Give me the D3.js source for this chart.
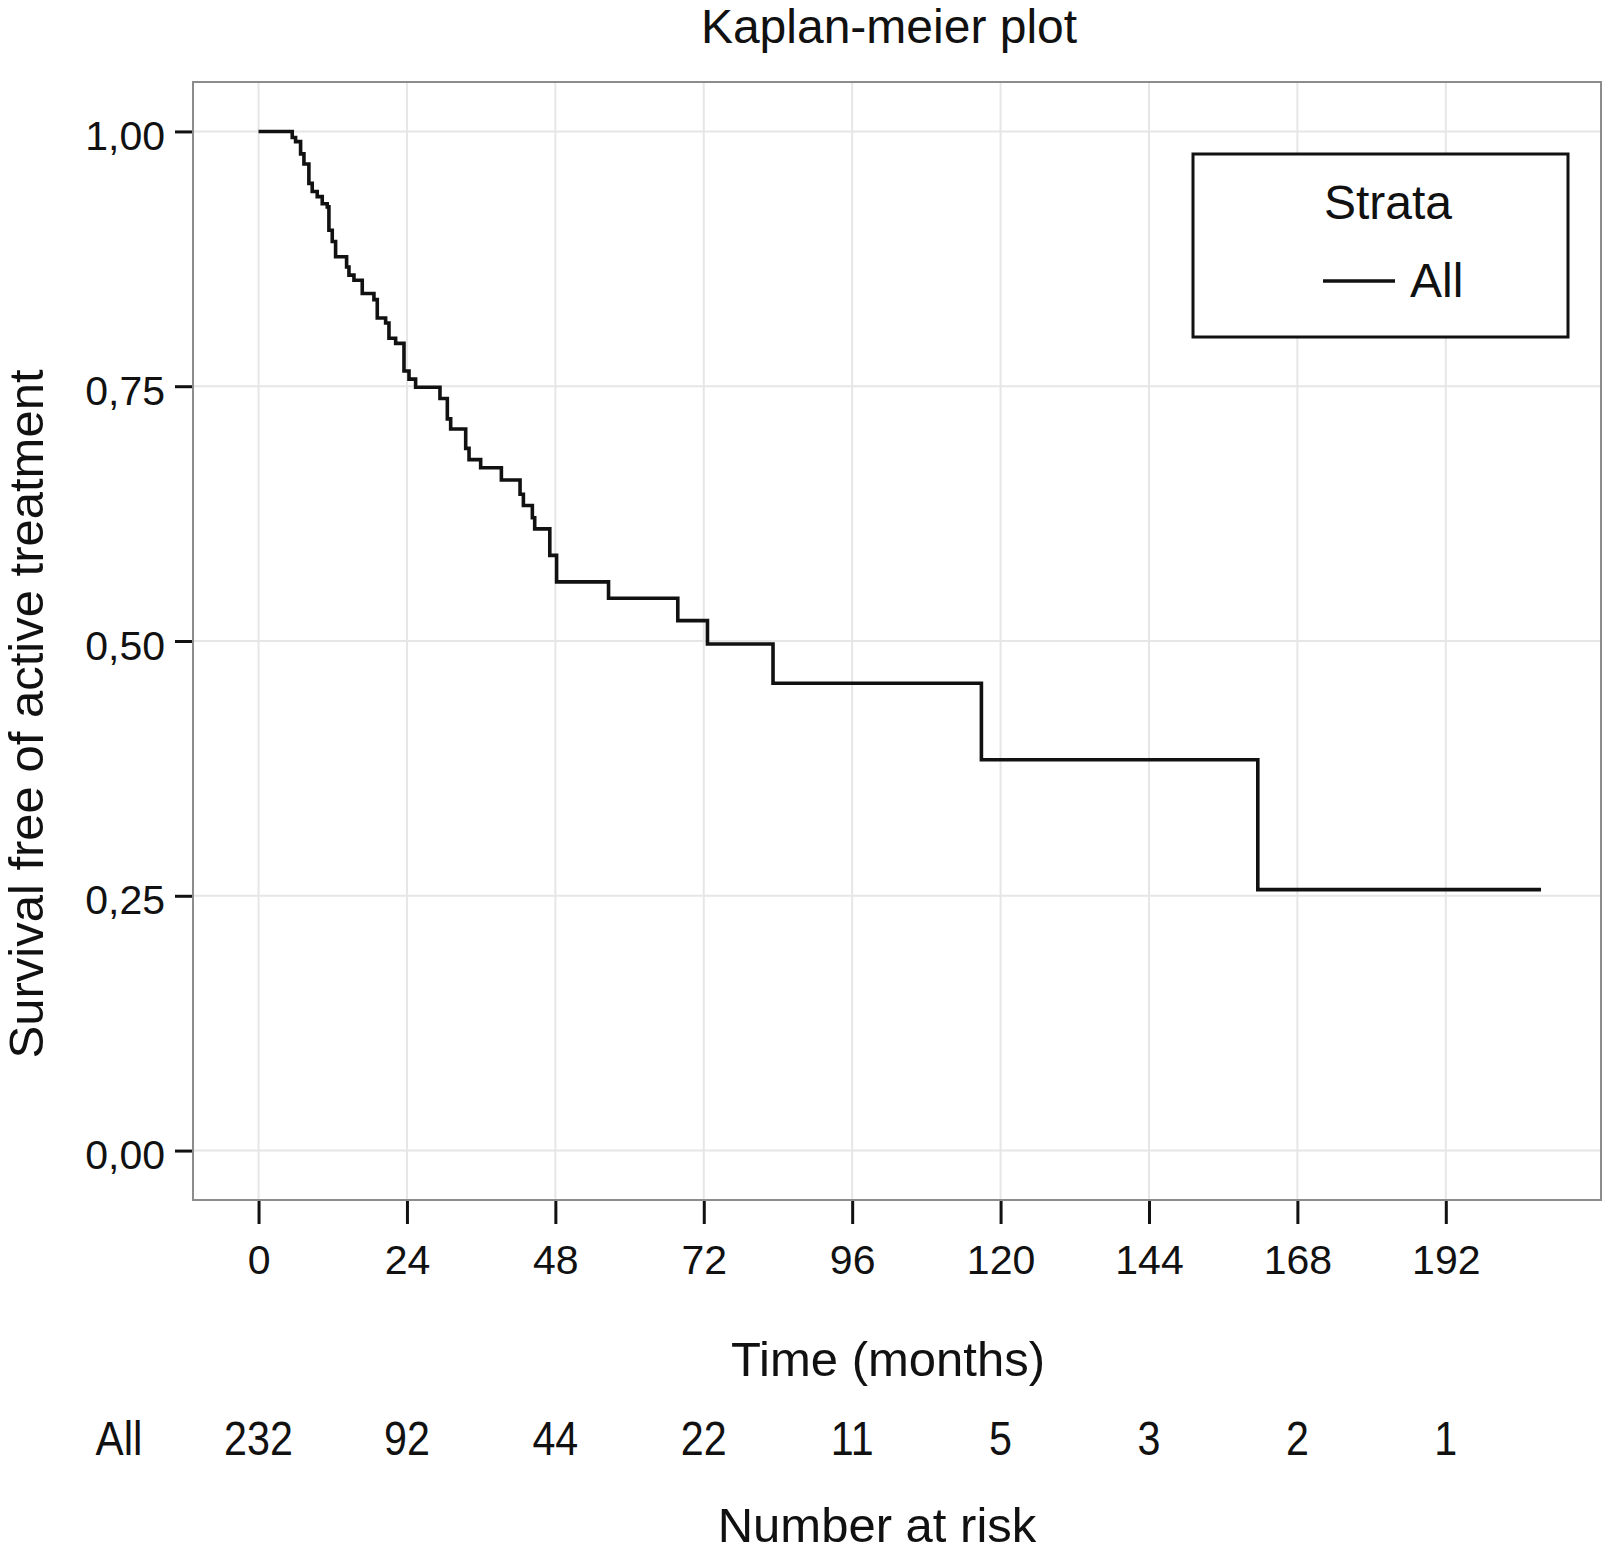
<!DOCTYPE html>
<html lang="en">
<head>
  <meta charset="UTF-8">
  <title>Kaplan-meier plot</title>
  <style>
    body { margin: 0; background: #fff; }
    svg { display: block; }
    text { font-family: "Liberation Sans", Arial, Helvetica, sans-serif; fill: #111; }
  </style>
  <script src="https://d3js.org/d3.v7.min.js"></script>
</head>
<body>
  <svg id="chart" width="1604" height="1553"></svg>
  <script>
    // Kaplan-Meier steps: month of each drop and the survival after it
    const eventTimes = [5.45, 5.99, 6.80, 7.34, 8.14, 8.68, 9.49, 10.30, 11.11, 11.38, 11.92, 12.46,
      14.24, 14.62, 15.43, 16.77, 18.66, 19.20, 20.55, 21.09, 22.17, 23.52, 24.33, 25.40,
      29.34, 30.53, 31.07, 33.50, 34.04, 35.92, 39.27, 42.29, 42.83, 44.28, 44.66, 47.1,
      48.2, 56.6, 67.8, 72.6, 83.2, 116.9, 161.6];
    const survival = [0.994, 0.990, 0.978, 0.968, 0.949, 0.941, 0.936, 0.929, 0.926, 0.903, 0.892, 0.877,
      0.867, 0.859, 0.854, 0.841, 0.835, 0.817, 0.812, 0.797, 0.792, 0.765, 0.757, 0.749,
      0.738, 0.718, 0.708, 0.689, 0.678, 0.670, 0.658, 0.644, 0.633, 0.621, 0.610, 0.584,
      0.558, 0.542, 0.520, 0.497, 0.4585, 0.3835, 0.256];
    const lastTime = 207.4;

    const xTicks = [0, 24, 48, 72, 96, 120, 144, 168, 192];
    const yTicks = [0, 0.25, 0.5, 0.75, 1];
    const riskTimes = [0, 24, 48, 72, 96, 120, 144, 168, 192];
    const riskCounts = [232, 92, 44, 22, 11, 5, 3, 2, 1];

    const svg = d3.select('#chart');
    const panel = { left: 193, right: 1601, top: 82, bottom: 1200 };

    // ggplot-style expanded domains
    const x = d3.scaleLinear().domain([-10.6, 217.1]).range([panel.left, panel.right]);
    const y = d3.scaleLinear().domain([-0.0485, 1.0485]).range([panel.bottom, panel.top]);
    const fmt = d => d3.format('.2f')(d).replace('.', ',');

    // title
    svg.append('text')
      .attr('x', 889).attr('y', 43)
      .attr('text-anchor', 'middle')
      .style('font-size', '48px')
      .text('Kaplan-meier plot');

    // grid
    const grid = svg.append('g').attr('stroke', '#e6e6e6').attr('stroke-width', 2);
    grid.selectAll('line.v').data(xTicks).join('line')
      .attr('x1', d => x(d)).attr('x2', d => x(d))
      .attr('y1', panel.top).attr('y2', panel.bottom);
    grid.selectAll('line.h').data(yTicks).join('line')
      .attr('y1', d => y(d)).attr('y2', d => y(d))
      .attr('x1', panel.left).attr('x2', panel.right);

    // axes
    const xAxis = svg.append('g')
      .attr('transform', `translate(0,${panel.bottom})`)
      .call(d3.axisBottom(x).tickValues(xTicks).tickSize(24).tickPadding(20).tickSizeOuter(0));
    const yAxis = svg.append('g')
      .attr('transform', `translate(${panel.left},0)`)
      .call(d3.axisLeft(y).tickValues(yTicks).tickFormat(fmt).tickSize(18).tickPadding(10).tickSizeOuter(0));
    [xAxis, yAxis].forEach(a => {
      a.select('.domain').remove();
      a.selectAll('.tick line').attr('stroke', '#111').attr('stroke-width', 3);
      a.selectAll('.tick text').attr('fill', '#111')
        .style('font-size', '41px')
        .style('font-family', '"Liberation Sans", Arial, sans-serif');
    });
    xAxis.selectAll('.tick text').attr('dy', '0.72em');
    yAxis.selectAll('.tick text').attr('dy', '0.44em');

    // panel border
    svg.append('rect')
      .attr('x', panel.left).attr('y', panel.top)
      .attr('width', panel.right - panel.left).attr('height', panel.bottom - panel.top)
      .attr('fill', 'none').attr('stroke', '#8c8c8c').attr('stroke-width', 2);

    // survival curve
    const pts = [[0, 1]].concat(eventTimes.map((t, i) => [t, survival[i]]));
    pts.push([lastTime, survival[survival.length - 1]]);
    const line = d3.line().x(d => x(d[0])).y(d => y(d[1])).curve(d3.curveStepAfter);
    svg.append('path')
      .datum(pts)
      .attr('d', line)
      .attr('fill', 'none')
      .attr('stroke', '#111')
      .attr('stroke-width', 3.6);

    // legend
    const lg = svg.append('g');
    lg.append('rect')
      .attr('x', 1193).attr('y', 154).attr('width', 375).attr('height', 183)
      .attr('fill', '#fff').attr('stroke', '#111').attr('stroke-width', 3);
    lg.append('text')
      .attr('x', 1388).attr('y', 219).attr('text-anchor', 'middle')
      .style('font-size', '48px').text('Strata');
    lg.append('line')
      .attr('x1', 1323).attr('x2', 1395).attr('y1', 281).attr('y2', 281)
      .attr('stroke', '#111').attr('stroke-width', 3.6);
    lg.append('text')
      .attr('x', 1410).attr('y', 297)
      .style('font-size', '48px').text('All');

    // axis titles
    svg.append('text')
      .attr('x', 888).attr('y', 1376).attr('text-anchor', 'middle')
      .style('font-size', '49px').text('Time (months)');
    svg.append('text')
      .attr('transform', 'translate(43,714) rotate(-90)')
      .attr('text-anchor', 'middle')
      .style('font-size', '49px').text('Survival free of active treatment');

    // number at risk table (narrow type, as in the picture)
    svg.append('text')
      .attr('transform', 'translate(119,1455) scale(0.88,1)')
      .attr('text-anchor', 'middle')
      .style('font-size', '48px').text('All');
    svg.selectAll('text.count').data(riskCounts).join('text')
      .attr('class', 'count')
      .attr('transform', (d, i) => `translate(${x(riskTimes[i])},1455) scale(0.86,1)`)
      .attr('text-anchor', 'middle')
      .style('font-size', '48px')
      .text(d => d);
    svg.append('text')
      .attr('x', 877).attr('y', 1542).attr('text-anchor', 'middle')
      .style('font-size', '49px').text('Number at risk');
  </script>
</body>
</html>
